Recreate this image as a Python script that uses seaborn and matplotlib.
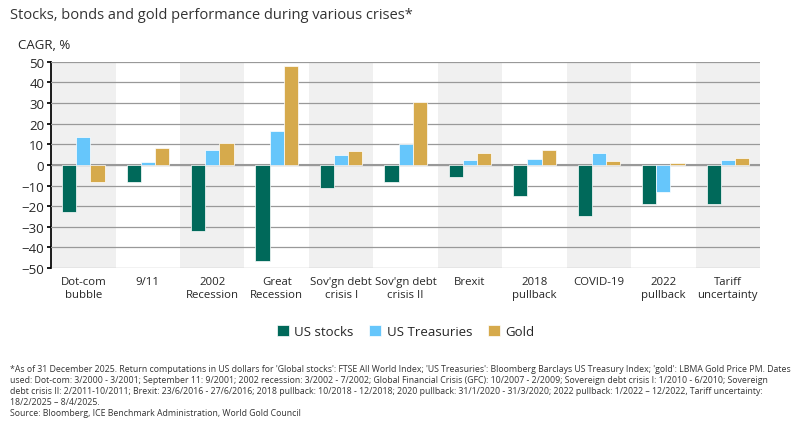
import matplotlib
matplotlib.use("Agg")
import matplotlib.pyplot as plt
import seaborn as sns
import pandas as pd
import numpy as np

categories = ["Dot-com\nbubble", "9/11", "2002\nRecession", "Great\nRecession", "Sov'gn debt\ncrisis I",
              "Sov'gn debt\ncrisis II", "Brexit", "2018\npullback", "COVID-19", "2022\npullback", "Tariff\nuncertainty"]
us_stocks = [-23, -8.5, -32, -46.5, -11, -8.5, -6, -15, -25, -19, -19]
us_treasuries = [13.5, 1.5, 7, 16.5, 5, 10, 2.3, 2.8, 5.8, -13, 2.3]
gold = [-8.5, 8, 10.5, 48, 6.5, 30.5, 5.8, 7, 2, 0.7, 3.3]
series = ["US stocks", "US Treasuries", "Gold"]
colors = ["#00695a", "#66c6fb", "#d6aa4c"]

df = pd.DataFrame({"cat": categories * 3,
                   "series": sum([[s] * len(categories) for s in series], []),
                   "val": us_stocks + us_treasuries + gold})

sns.set_theme(style="white")
plt.rcParams["font.family"] = ["Open Sans", "DejaVu Sans"]
fig = plt.figure(figsize=(8.12, 4.27), dpi=100)
ax = fig.add_axes([0.063, 0.37, 0.873, 0.483])
for i in range(0, len(categories), 2):
    ax.axvspan(i - 0.5, i + 0.5, color="#f0f0f0", zorder=0, lw=0)
sns.barplot(data=df, x="cat", y="val", hue="series", palette=colors, ax=ax, saturation=1,
            width=0.66, zorder=3, legend=True, edgecolor="white", linewidth=0.5)
ax.set_xlim(-0.5, len(categories) - 0.5)
ax.set_ylim(-50, 50)
ax.set_yticks(range(-50, 51, 10))
ax.yaxis.grid(True, color="#999999", lw=0.9, zorder=1)
ax.axhline(0, color="#999999", lw=1.5, zorder=2)
ax.set_xlabel(""); ax.set_ylabel("")
for s in ["top", "right", "bottom"]:
    ax.spines[s].set_visible(False)
ax.spines["left"].set_color("black")
ax.tick_params(axis="y", labelsize=9.5, left=True, length=3, color="black", pad=2)
ax.tick_params(axis="x", labelsize=8.2, length=0, pad=6)
ax.set_xticks(range(len(categories)))
ax.set_xticklabels(categories)
ax.set_axisbelow(False)
ax.legend(loc="upper center", bbox_to_anchor=(0.5, -0.22), ncol=3, frameon=False,
          fontsize=9.5, handlelength=0.9, handleheight=0.9, columnspacing=1.2, handletextpad=0.4)

fig.text(0.012, 0.955, "Stocks, bonds and gold performance during various crises*", fontsize=10.5, color="#333333")
fig.text(0.022, 0.885, "CAGR, %", fontsize=9.5)
foot = ("*As of 31 December 2025. Return computations in US dollars for 'Global stocks': FTSE All World Index; 'US Treasuries': Bloomberg Barclays US Treasury Index; 'gold': LBMA Gold Price PM. Dates\n"
        "used: Dot-com: 3/2000 - 3/2001; September 11: 9/2001; 2002 recession: 3/2002 - 7/2002; Global Financial Crisis (GFC): 10/2007 - 2/2009; Sovereign debt crisis I: 1/2010 - 6/2010; Sovereign\n"
        "debt crisis II: 2/2011-10/2011; Brexit: 23/6/2016 - 27/6/2016; 2018 pullback: 10/2018 - 12/2018; 2020 pullback: 31/1/2020 - 31/3/2020; 2022 pullback: 1/2022 – 12/2022, Tariff uncertainty:\n"
        "18/2/2025 – 8/4/2025.\n"
        "Source: Bloomberg, ICE Benchmark Administration, World Gold Council")
fig.text(0.012, 0.025, foot, fontsize=6.3, color="#333333", linespacing=1.3)
fig.savefig("out.png", dpi=100)
